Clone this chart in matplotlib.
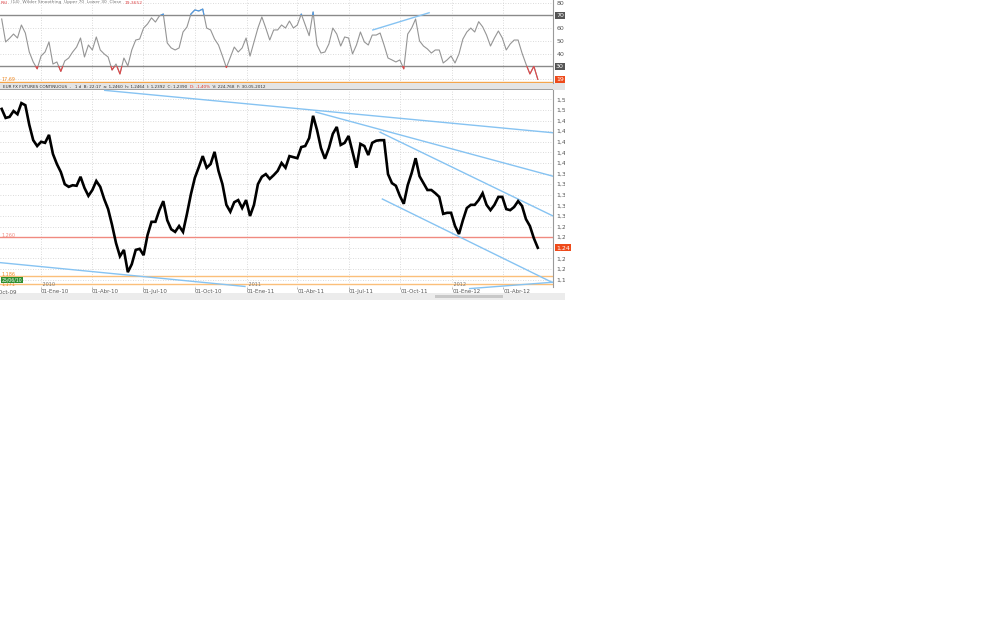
import numpy as np
import pandas as pd
import matplotlib
matplotlib.use("Agg")
import matplotlib.pyplot as plt
from matplotlib.patches import Rectangle
from matplotlib.transforms import Bbox, TransformedBbox

# weekly closes of the EUR FX futures
week_ends = pd.date_range("2009-10-23", periods=137, freq="W-FRI")
close = [
    1.502, 1.485, 1.487, 1.498, 1.492, 1.513, 1.509, 1.472, 1.443, 1.432,
    1.440, 1.438, 1.453, 1.417, 1.398, 1.383, 1.360, 1.355, 1.358, 1.357,
    1.374, 1.353, 1.338, 1.349, 1.366, 1.355, 1.332, 1.313, 1.283, 1.249,
    1.224, 1.236, 1.194, 1.209, 1.236, 1.238, 1.226, 1.264, 1.289, 1.289,
    1.311, 1.328, 1.292, 1.275, 1.270, 1.281, 1.270, 1.304, 1.341, 1.372,
    1.392, 1.413, 1.391, 1.398, 1.421, 1.385, 1.360, 1.321, 1.308, 1.326,
    1.330, 1.315, 1.330, 1.300, 1.321, 1.360, 1.374, 1.379, 1.370, 1.377,
    1.385, 1.400, 1.391, 1.413, 1.411, 1.409, 1.430, 1.432, 1.447, 1.489,
    1.462, 1.428, 1.408, 1.428, 1.455, 1.468, 1.434, 1.438, 1.451, 1.421,
    1.391, 1.436, 1.432, 1.415, 1.438, 1.442, 1.443, 1.443, 1.379, 1.362,
    1.357, 1.338, 1.323, 1.358, 1.381, 1.409, 1.375, 1.362, 1.349, 1.349,
    1.343, 1.336, 1.304, 1.306, 1.306, 1.281, 1.266, 1.292, 1.315, 1.321,
    1.321, 1.330, 1.343, 1.321, 1.311, 1.321, 1.336, 1.336, 1.313, 1.311,
    1.317, 1.328, 1.319, 1.294, 1.281, 1.258, 1.240,
]
rsi = [
    67.1, 49.1, 52.0, 55.3, 52.2, 62.4, 56.1, 41.2, 33.4, 28.0,
    38.1, 41.2, 49.1, 31.8, 33.4, 26.0, 34.2, 36.5, 41.2, 45.1,
    52.2, 37.3, 46.7, 42.8, 53.0, 42.8, 39.7, 37.3, 27.1, 31.8,
    24.0, 36.5, 30.3, 42.8, 50.6, 51.4, 60.0, 63.2, 68.0, 64.7,
    69.5, 71.0, 48.3, 44.4, 42.8, 44.4, 56.9, 60.8, 71.0, 74.2,
    73.4, 74.9, 60.0, 58.5, 51.4, 46.7, 38.1, 29.0, 37.0, 45.1,
    41.2, 44.4, 52.2, 38.0, 49.1, 60.0, 68.7, 60.0, 50.6, 58.5,
    58.5, 62.4, 60.0, 65.5, 60.0, 62.4, 71.0, 62.4, 54.0, 72.6,
    46.7, 40.4, 41.2, 47.5, 60.0, 55.3, 45.9, 53.0, 52.2, 39.7,
    46.7, 56.9, 49.1, 46.7, 54.5, 54.5, 56.1, 46.7, 36.5, 35.0,
    33.4, 35.0, 28.0, 55.3, 60.0, 67.1, 49.9, 45.9, 43.6, 40.4,
    42.8, 42.8, 32.6, 35.0, 38.1, 32.6, 39.7, 51.4, 56.9, 60.0,
    56.9, 65.0, 61.0, 54.5, 45.9, 52.2, 57.7, 52.2, 42.8, 47.5,
    50.6, 50.6, 40.4, 31.8, 24.0, 30.0, 19.8,
]

# trend lines drawn on the price panel: (start date, start price, end date, end price)
price_trendlines = [
    ("2010-04-24", 1.537, "2012-06-28", 1.457),
    ("2011-05-04", 1.496, "2012-06-28", 1.375),
    ("2011-08-26", 1.458, "2012-06-28", 1.300),
    ("2011-08-30", 1.332, "2012-06-26", 1.175),
    ("2009-10-20", 1.212, "2010-12-29", 1.167),
    ("2012-02-01", 1.163, "2012-06-28", 1.175),
]
rsi_trendline = ("2011-08-13", 58.5, "2011-11-21", 72.0)

support_red = 1.260
support_orange = [1.186, 1.171]
last_price = 1.240
rsi_levels = [70, 30]
rsi_orange = 17.6
rsi_last_label = "19"

price_ticks = np.arange(1.18, 1.521, 0.02)
rsi_ticks = [20, 40, 50, 60, 80]

quarter_dates = ["2009-10-01", "2010-01-01", "2010-04-01", "2010-07-01", "2010-10-01",
                 "2011-01-01", "2011-04-01", "2011-07-01", "2011-10-01", "2012-01-01",
                 "2012-04-01"]
quarter_labels = ["01-Oct-09", "01-Ene-10", "01-Abr-10", "01-Jul-10", "01-Oct-10",
                  "01-Ene-11", "01-Abr-11", "01-Jul-11", "01-Oct-11", "01-Ene-12",
                  "01-Abr-12"]
year_starts = ["2010-01-01", "2011-01-01", "2012-01-01"]

price_header = [("EUR FX FUTURES CONTINUOUS  -   1 d  B: 22:17  a: 1,2460  h: 1,2464  "
                 "l: 1,2392  C: 1,2390  ", "#333333"),
                ("D: -1,40%", "#e0302a"),
                ("  V: 224,768  F: 30-05-2012", "#333333")]
rsi_header = [("RSI", "#e0484a"),
              ("  (14)  Wilder Smoothing  Upper 70  Lower 30  Close  ", "#777777"),
              ("19,3652", "#e0484a")]

W, H = 1008, 630
BLUE = "#86c3f2"
GRID = "#cfcfcf"
TXT = "#555555"
NARROW = ["Liberation Sans Narrow", "DejaVu Sans"]
X0, X1 = pd.Timestamp("2009-10-20"), pd.Timestamp("2012-06-28")


def px_rect(x0, y0, x1, y1):
    return [x0 / W, 1 - y1 / H, (x1 - x0) / W, (y1 - y0) / H]


def setup_axis(ax):
    ax.set_xticks(pd.to_datetime(quarter_dates[1:]))
    ax.set_xlim(X0, X1)
    ax.grid(True, color=GRID, lw=0.6, ls=(0, (1, 2)))
    for s in ["top", "left", "bottom"]:
        ax.spines[s].set_visible(False)
    ax.spines["right"].set_color("#9a9a9a")
    ax.spines["right"].set_linewidth(0.8)
    ax.yaxis.tick_right()
    ax.tick_params(axis="y", length=0, pad=2.5, labelsize=4.5, labelcolor=TXT)


def chain_text(ax, parts, x, y, size):
    t = ax.figure.text(x / W, 1 - y / H, parts[0][0], color=parts[0][1], fontsize=size,
                       family=NARROW, va="center")
    for s, c in parts[1:]:
        t = ax.annotate(s, xy=(1, 0.5), xycoords=t, va="center", ha="left", color=c,
                        fontsize=size, family=NARROW, annotation_clip=False)


def strip(x0, y0, x1, y1, color):
    fig.patches.append(Rectangle((x0 / W, 1 - y1 / H), (x1 - x0) / W, (y1 - y0) / H,
                                 transform=fig.transFigure, facecolor=color,
                                 edgecolor="none", zorder=-1))


fig = plt.figure(figsize=(W / 100, H / 100), dpi=100)
clip_bbox = TransformedBbox(Bbox([[0, 0], [565 / W, 1]]), fig.transFigure)

strip(0, 83, 565, 90, "#e4e4e4")
strip(0, 89.2, 553, 89.8, "#a0a0a0")
strip(0, 293, 565, 300, "#ececec")
strip(435, 295, 503, 298, "#c8c8c8")

# ---- RSI panel ----
ax_rsi = fig.add_axes(px_rect(0, 0, 553, 83))
setup_axis(ax_rsi)
ax_rsi.set_ylim(16.9, 82.0)
ax_rsi.set_yticks(rsi_ticks)
ax_rsi.set_yticklabels([str(v) for v in rsi_ticks])
ax_rsi.tick_params(axis="x", length=0, labelbottom=False)
for lv in rsi_levels:
    ax_rsi.axhline(lv, color="#8a8a8a", lw=1.0)
ax_rsi.axhline(rsi_orange, color="#f5a54a", lw=1.0)
ax_rsi.plot(week_ends, rsi, color="#959595", lw=0.8)
hi = ax_rsi.plot(week_ends, rsi, color="#4f9be6", lw=0.8)[0]
hi.set_clip_path(Rectangle((0, 70), 1, 40, transform=ax_rsi.get_yaxis_transform()))
lo = ax_rsi.plot(week_ends, rsi, color="#e0484a", lw=0.8)[0]
lo.set_clip_path(Rectangle((0, 0), 1, 30, transform=ax_rsi.get_yaxis_transform()))
d0, v0, d1, v1 = rsi_trendline
ax_rsi.plot(pd.to_datetime([d0, d1]), [v0, v1], color=BLUE, lw=1.0)

for lv in rsi_levels:
    ax_rsi.text(1 + 3 / 553, lv, str(lv), transform=ax_rsi.get_yaxis_transform(),
                fontsize=4.5, color="white", va="center", ha="left", clip_on=False,
                bbox=dict(facecolor="#555555", edgecolor="none", pad=0.8))
ax_rsi.text(1 + 3 / 553, 19.5, rsi_last_label, transform=ax_rsi.get_yaxis_transform(),
            fontsize=4.5, color="white", va="center", ha="left", clip_on=False,
            bbox=dict(facecolor="#ee4a1a", edgecolor="none", pad=0.8))
ax_rsi.text(1 / 553, 19.6, "17,69", transform=ax_rsi.get_yaxis_transform(),
            fontsize=3.5, color="#f08c28", va="center", ha="left")
chain_text(ax_rsi, rsi_header, 1, 2.5, 3.2)

# ---- price panel ----
ax = fig.add_axes(px_rect(0, 90, 553, 287))
setup_axis(ax)
ax.set_ylim(1.166, 1.5377)
ax.set_yticks(price_ticks)
ax.set_yticklabels([f"{v:.2f}".replace(".", ",") for v in price_ticks])
ax.set_xticklabels(quarter_labels[1:])
ax.tick_params(axis="x", length=1.5, width=0.5, color="#999999", pad=0.3,
               labelsize=4, labelcolor=TXT)
for lab in ax.get_xticklabels():
    lab.set_horizontalalignment("left")
# the first quarter label sits left of the visible range and is cut by the edge
ax.annotate(quarter_labels[0], xy=(pd.Timestamp(quarter_dates[0]), 0),
            xycoords=("data", "axes fraction"), xytext=(0, -1.9), textcoords="offset points",
            fontsize=4, color=TXT, ha="left", va="top", annotation_clip=False)

ax.axhline(support_red, color="#f08a80", lw=1.0)
for lv in support_orange:
    ax.axhline(lv, color="#fbbf7a", lw=1.0)
for d0, v0, d1, v1 in price_trendlines:
    ax.plot(pd.to_datetime([d0, d1]), [v0, v1], color=BLUE, lw=1.0, clip_on=False)
ax.plot(week_ends, close, color="black", lw=1.9, solid_joinstyle="miter")

for ys in year_starts:
    ax.text(pd.Timestamp(ys), 1.1665, " " + ys[:4], fontsize=3.5, color="#777777",
            va="bottom", ha="left")

ax.text(1 + 3 / 553, last_price, f"{last_price:.2f}".replace(".", ","),
        transform=ax.get_yaxis_transform(), fontsize=4.5, color="white", va="center",
        ha="left", clip_on=False, zorder=5,
        bbox=dict(facecolor="#ee4a1a", edgecolor="none", pad=0.8))
ax.text(1 / 553, support_red + 0.004, "1,260", transform=ax.get_yaxis_transform(),
        fontsize=3.5, color="#f08a80", va="center", ha="left")
ax.text(1 / 553, support_orange[0] + 0.004, "1,186", transform=ax.get_yaxis_transform(),
        fontsize=3.5, color="#f08c28", va="center", ha="left")
ax.text(1 / 553, support_orange[1] + 0.0005, "1,171", transform=ax.get_yaxis_transform(),
        fontsize=3.5, color="#f08c28", va="center", ha="left")
ax.text(2 / 553, 1.179, "25/06/10", transform=ax.get_yaxis_transform(),
        fontsize=3.3, color="white", va="center", ha="left",
        bbox=dict(facecolor="#2f8f2f", edgecolor="none", pad=0.6))

chain_text(ax, price_header, 3, 86.5, 3.0)

# the screenshot is cut at x = 565 px
for a in (ax, ax_rsi):
    for lab in a.get_yticklabels():
        lab.set_clip_box(clip_bbox)
        lab.set_clip_on(True)

fig.savefig("out.png", dpi=100, facecolor="white")
